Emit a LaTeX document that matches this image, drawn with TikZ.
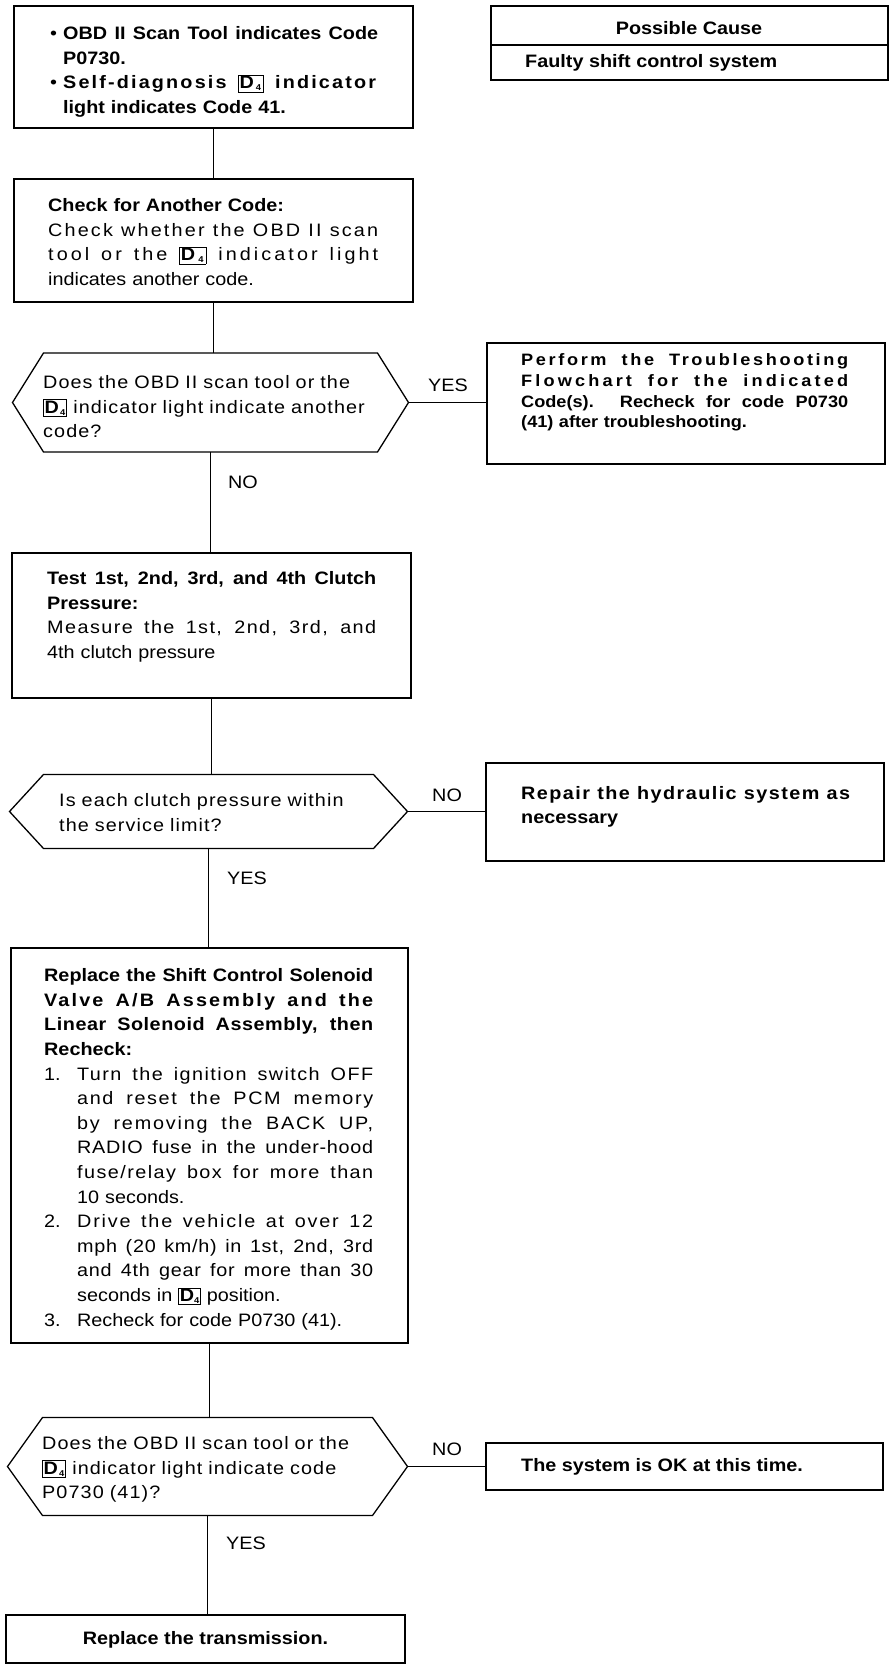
\documentclass[tikz,border=0pt]{standalone}
\usepackage{fontspec}
\setmainfont{Liberation Sans}[FakeStretch=1.1]
\usetikzlibrary{calc}
\newcommand{\fsz}[2]{\fontsize{#1}{#2}\selectfont}
\newcommand{\dfour}{{\setlength{\fboxsep}{0.7pt}\setlength{\fboxrule}{0.8pt}\fbox{\textbf{D}\raisebox{-0.2ex}{\fontsize{8.5}{8.5}\selectfont\textbf{4}}}}}
\newcommand{\jl}[2]{{\spaceskip=0pt\xspaceskip=0pt\makebox[#1][s]{#2}}}
\newcommand{\ls}[2]{{\addfontfeature{LetterSpace=#1}#2}}
\newcommand{\nm}[1]{\makebox[33pt][l]{#1}}
\newcommand{\hexa}[2]{\draw[hexline] (#1.west) -- ($(#1.north west)+(#2,0)$) -- ($(#1.north east)+(-#2,0)$) -- (#1.east) -- ($(#1.south east)+(-#2,0)$) -- ($(#1.south west)+(#2,0)$) -- cycle;}
\begin{document}
\begin{tikzpicture}[x=1pt,y=-1pt,
  box/.style={draw, line width=1.6pt, rectangle, inner sep=0pt, outer sep=0pt},
  hold/.style={rectangle, inner sep=0pt, outer sep=0pt},
  hexline/.style={line width=1.3pt, line join=miter},
  conn/.style={line width=1.1pt},
  txt/.style={anchor=north west, inner sep=0pt, align=left, font=\fsz{18}{24.6}},
  dtxt/.style={anchor=north west, inner sep=0pt, align=left, font=\fsz{18}{24.6}\addfontfeature{LetterSpace=6}},
  lbl/.style={anchor=west, inner sep=0pt, font=\fsz{18}{20}}]
\fill[white] (0,0) rectangle (896,1672);

% boxes
\node[box, minimum width=399pt, minimum height=122pt] (b1) at (213.5,67) {};
\node[box, minimum width=397pt, minimum height=74pt] (pc) at (689.5,43) {};
\node[box, minimum width=399pt, minimum height=123pt] (b2) at (213.5,240.5) {};
\node[hold, minimum width=396pt, minimum height=99pt] (d1) at (210.5,402.5) {};
\node[box, minimum width=398pt, minimum height=121pt] (pf) at (686,403.5) {};
\node[box, minimum width=399pt, minimum height=145pt] (b3) at (211.5,625.5) {};
\node[hold, minimum width=398pt, minimum height=74pt] (d2) at (208.5,811.5) {};
\node[box, minimum width=398pt, minimum height=98pt] (rp) at (685,812) {};
\node[box, minimum width=397pt, minimum height=395pt] (b4) at (209.5,1145.5) {};
\node[hold, minimum width=400pt, minimum height=98pt] (d3) at (207.5,1466.5) {};
\node[box, minimum width=397pt, minimum height=47pt] (ok) at (684.5,1466.5) {};
\node[box, minimum width=399pt, minimum height=48pt] (fn) at (205.5,1639) {};

\hexa{d1}{31}
\hexa{d2}{34}
\hexa{d3}{35}
\draw[line width=1.4pt] ($(pc.north west)+(0,39)$) -- ($(pc.north east)+(0,39)$);

% connectors
\draw[conn] (b1.south) -- (b2.north);
\draw[conn] (b2.south) -- (b2.south |- d1.north);
\draw[conn] (d1.east) -- (pf.west |- d1.east);
\draw[conn] (d1.south) -- (d1.south |- b3.north);
\draw[conn] (b3.south) -- (b3.south |- d2.north);
\draw[conn] (d2.east) -- (rp.west |- d2.east);
\draw[conn] (d2.south) -- (d2.south |- b4.north);
\draw[conn] (b4.south) -- (b4.south |- d3.north);
\draw[conn] (d3.east) -- (ok.west |- d3.east);
\draw[conn] (d3.south) -- (d3.south |- fn.north);

% texts
\node[txt, text width=335pt] (b1t) at (50,26.5) {%
\makebox[13pt][l]{•}\jl{315pt}{\textbf{OBD II Scan Tool indicates Code}}\\
\hspace*{13pt}\textbf{P0730.}\\
\makebox[13pt][l]{•}\jl{315pt}{\textbf{\ls{12}{Self-diagnosis \dfour{} indicator}}}\\
\hspace*{13pt}\textbf{light indicates Code 41.}};

\node[font=\fsz{18}{20}\bfseries, inner sep=0pt] (pct) at (689,28) {Possible Cause};
\node[font=\fsz{18}{20}\bfseries, inner sep=0pt, anchor=west] (fct) at (525,63) {Faulty shift control system};

\node[txt, text width=335pt] (b2t) at (48,198.5) {%
\textbf{Check for Another Code:}\\
\jl{330pt}{\ls{12}{Check whether the OBD II scan}}\\
\jl{330pt}{\ls{17}{tool or the \dfour{} indicator light}}\\
indicates another code.};

\node[dtxt, text width=345pt] (d1t) at (43,375.5) {%
Does the OBD II scan tool or the\\
\dfour{} indicator light indicate another\\
code?};

\node[txt, text width=335pt, font=\fsz{16.5}{20.6}\bfseries] (pft) at (521,353.8) {%
\jl{327pt}{\ls{16}{Perform the Troubleshooting}}\\
\jl{327pt}{\ls{19}{Flowchart for the indicated}}\\
\jl{327pt}{Code(s). Recheck for code P0730}\\
(41) after troubleshooting.};

\node[lbl] (yes1) at (428,385) {YES};
\node[lbl] (no1) at (228,482) {NO};

\node[txt, text width=335pt] (b3t) at (47,571.5) {%
\textbf{\jl{329pt}{Test 1st, 2nd, 3rd, and 4th Clutch}}\\
\textbf{Pressure:}\\
\jl{329pt}{\ls{8}{Measure the 1st, 2nd, 3rd, and}}\\
4th clutch pressure};

\node[dtxt, text width=340pt] (d2t) at (59,793.5) {%
Is each clutch pressure within\\
the service limit?};

\node[txt, text width=335pt, font=\fsz{18}{24}\bfseries] (rpt) at (521,786.5) {%
\jl{329pt}{\ls{8}{Repair the hydraulic system as}}\\
necessary};

\node[lbl] (no2) at (432,795) {NO};
\node[lbl] (yes2) at (227,878) {YES};

\node[txt, text width=335pt] (b4t) at (44,968.5) {%
\textbf{\jl{329pt}{Replace the Shift Control Solenoid}}\\
\textbf{\jl{329pt}{\ls{12}{Valve A/B Assembly and the}}}\\
\textbf{\jl{329pt}{\ls{3}{Linear Solenoid Assembly, then}}}\\
\textbf{Recheck:}\\
\nm{1.}\jl{296pt}{\ls{8}{Turn the ignition switch OFF}}\\
\hspace*{33pt}\jl{296pt}{\ls{9}{and reset the PCM memory}}\\
\hspace*{33pt}\jl{296pt}{\ls{10}{by removing the BACK UP,}}\\
\hspace*{33pt}\jl{296pt}{\ls{4}{RADIO fuse in the under-hood}}\\
\hspace*{33pt}\jl{296pt}{\ls{8}{fuse/relay box for more than}}\\
\hspace*{33pt}10 seconds.\\
\nm{2.}\jl{296pt}{\ls{10}{Drive the vehicle at over 12}}\\
\hspace*{33pt}\jl{296pt}{\ls{4}{mph (20 km/h) in 1st, 2nd, 3rd}}\\
\hspace*{33pt}\jl{296pt}{\ls{4}{and 4th gear for more than 30}}\\
\hspace*{33pt}seconds in \dfour{} position.\\
\nm{3.}Recheck for code P0730 (41).};

\node[dtxt, text width=345pt] (d3t) at (42,1436.5) {%
Does the OBD II scan tool or the\\
\dfour{} indicator light indicate code\\
P0730 (41)?};

\node[lbl] (no3) at (432,1449) {NO};
\node[font=\fsz{18}{20}\bfseries, inner sep=0pt, anchor=west] (okt) at (521,1467) {The system is OK at this time.};
\node[lbl] (yes3) at (226,1543) {YES};
\node[font=\fsz{18}{20}\bfseries, inner sep=0pt] (fnt) at (205.5,1640) {Replace the transmission.};
\end{tikzpicture}
\end{document}
